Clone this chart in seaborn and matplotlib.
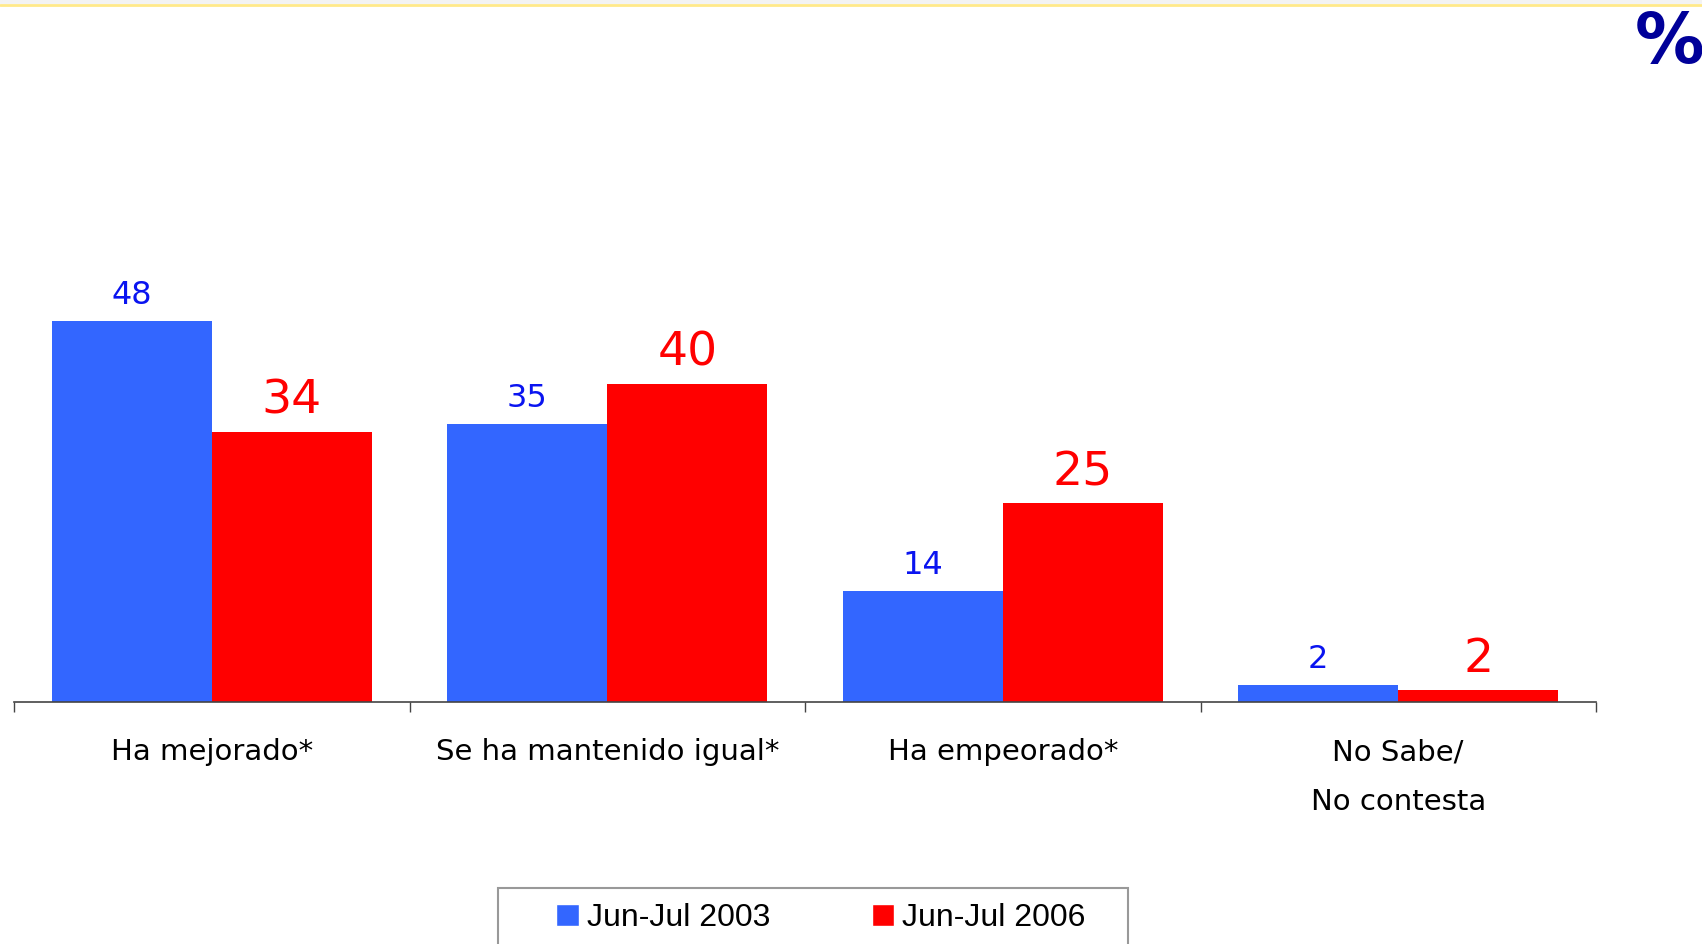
import pandas as pd
import matplotlib.pyplot as plt
import seaborn as sns
from matplotlib.patches import Patch, Rectangle
from matplotlib.lines import Line2D

# Data
categories = ["Ha mejorado*", "Se ha mantenido igual*", "Ha empeorado*", "No Sabe/\nNo contesta"]
periods = ["Jun-Jul 2003", "Jun-Jul 2006"]
values_2003 = [48, 35, 14, 2.2]
values_2006 = [34, 40, 25, 1.5]
labels_2003 = ["48", "35", "14", "2"]
labels_2006 = ["34", "40", "25", "2"]

blue = "#3366FF"
red = "#FF0000"

df = pd.DataFrame({
    "categoria": categories * 2,
    "periodo": [periods[0]] * 4 + [periods[1]] * 4,
    "valor": values_2003 + values_2006,
})

sns.set_style("white")
plt.rcParams["font.family"] = ["DejaVu Sans"]

W, H = 1702, 944
fig = plt.figure(figsize=(W / 100, H / 100), dpi=100)
ax = fig.add_axes([14 / W, 1 - 702 / H, 1582 / W, 681 / H])

sns.barplot(data=df, x="categoria", y="valor", hue="periodo",
            order=categories, hue_order=periods, palette=[blue, red],
            saturation=1, width=0.81, linewidth=0, legend=False, ax=ax)

# value labels: blue ones smaller, red ones larger
label_sets = [(labels_2003, "#0A14F0", 23, 7), (labels_2006, red, 34, 6)]
for container, (labs, col, size, pad) in zip(ax.containers, label_sets):
    ax.bar_label(container, labels=labs, color=col, fontsize=size, padding=pad)

ax.set_xlim(-0.5, 3.5)
ax.set_ylim(0, 85.7)
ax.set_yticks([])
ax.set_xlabel("")
ax.set_ylabel("")
for side in ["left", "top", "right"]:
    ax.spines[side].set_visible(False)
ax.spines["bottom"].set_color("#444444")
ax.spines["bottom"].set_linewidth(1.2)

ax.set_xticks(range(len(categories)))
ax.set_xticklabels(categories, fontsize=21, color="black")
ax.tick_params(axis="x", which="major", length=0, pad=26)
ax.set_xticks([-0.5, 0.5, 1.5, 2.5, 3.5], minor=True)
ax.tick_params(axis="x", which="minor", bottom=True, length=7, width=1,
               color="#444444", direction="out")
for lab in ax.get_xticklabels():
    lab.set_linespacing(2.0)

# legend
handles = [Patch(facecolor=blue), Patch(facecolor=red)]
fig.legend(handles, periods, loc="center", bbox_to_anchor=(821 / W, 1 - 918 / H),
           ncol=2, frameon=False, handlelength=0.7, handleheight=0.7,
           handletextpad=0.25, columnspacing=3.2, labelcolor="black",
           prop={"family": ["Liberation Sans Narrow", "Liberation Sans"], "size": 23})
fig.add_artist(Rectangle((498 / W, -0.05), 630 / W, 0.05 + 1 - 888 / H,
                         transform=fig.transFigure, fill=False,
                         edgecolor="#999999", linewidth=1.5))

# top strip and yellow rule
fig.add_artist(Rectangle((0, 1 - 4 / H), 1, 4 / H, transform=fig.transFigure,
                         facecolor="#F3F3F3", edgecolor="none"))
fig.add_artist(Line2D([0, 1], [1 - 5 / H] * 2, transform=fig.transFigure,
                      color="#FFE98A", linewidth=2))

fig.text(1635 / W, 1 - 63 / H, "%", color="#000099", fontsize=50,
         fontweight="bold", ha="left", va="baseline")

fig.savefig("out.png", dpi=100)
